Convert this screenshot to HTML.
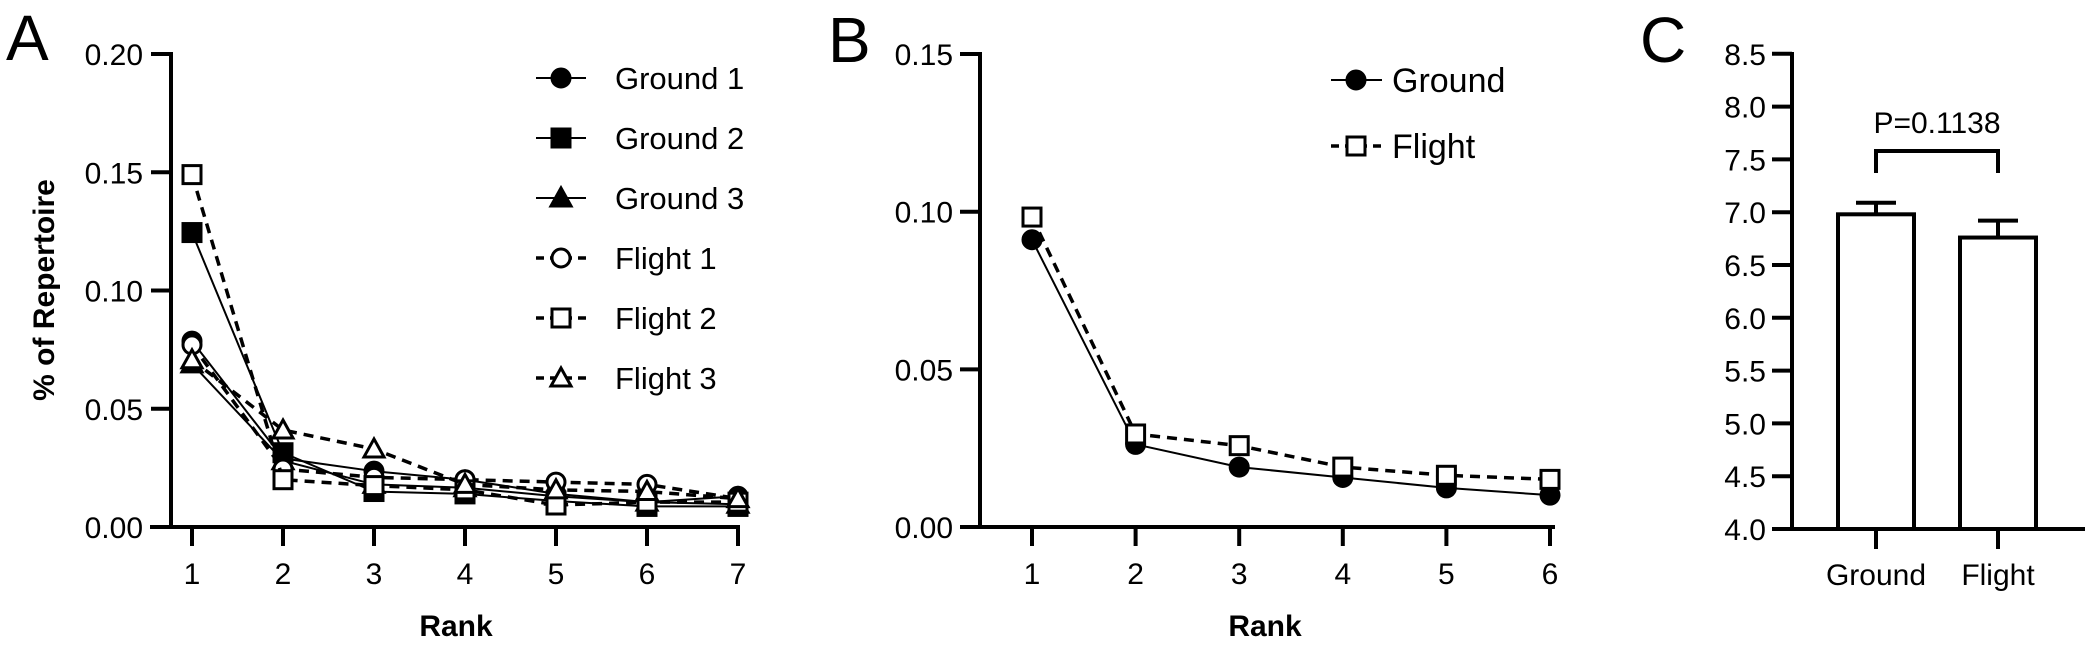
<!DOCTYPE html>
<html><head><meta charset="utf-8"><style>
html,body{margin:0;padding:0;background:#fff}
svg{display:block;font-family:"Liberation Sans",Arial,sans-serif}
</style></head><body>
<svg id="fig" width="2085" height="647" viewBox="0 0 2085 647" xmlns="http://www.w3.org/2000/svg"></svg>
<script>
// ---------- Panel A data ----------
const ranksA = [1,2,3,4,5,6,7];
const yTicksA = ["0.00","0.05","0.10","0.15","0.20"];
const ground1 = [0.0786,0.029,0.0236,0.020,0.014,0.0105,0.013];
const ground2 = [0.1245,0.0314,0.015,0.014,0.011,0.0087,0.0087];
const ground3 = [0.069,0.028,0.018,0.0166,0.013,0.0105,0.0096];
const flight1 = [0.077,0.0245,0.021,0.020,0.019,0.018,0.012];
const flight2 = [0.149,0.020,0.0175,0.0157,0.0093,0.0105,0.0105];
const flight3 = [0.0707,0.041,0.033,0.018,0.0157,0.015,0.012];
const seriesNamesA = ["Ground 1","Ground 2","Ground 3","Flight 1","Flight 2","Flight 3"];
// ---------- Panel B data ----------
const ranksB = [1,2,3,4,5,6];
const yTicksB = ["0.00","0.05","0.10","0.15"];
const groundB = [0.0911,0.0262,0.019,0.0157,0.0124,0.0101];
const flightB = [0.0983,0.0295,0.0258,0.019,0.0164,0.0151];
// ---------- Panel C data ----------
const groupsC = ["Ground","Flight"];
const meansC = [6.98,6.76];
const errC = [0.11,0.16];
const yTicksC = ["4.0","4.5","5.0","5.5","6.0","6.5","7.0","7.5","8.0","8.5"];
const pLabel = "P=0.1138";

const NS="http://www.w3.org/2000/svg";
const svg=document.getElementById('fig');
function el(tag,attrs,parent){const e=document.createElementNS(NS,tag);for(const k in attrs)e.setAttribute(k,attrs[k]);(parent||svg).appendChild(e);return e;}
function txt(s,attrs,parent){const t=el('text',attrs,parent);t.textContent=s;return t;}

function marker(g,shape,filled,x,y){
  const f=filled?'#000':'#fff';
  let m;
  if(shape==='circle') m=el('circle',{cx:x,cy:y,r:9,fill:f,stroke:'#000','stroke-width':3},g);
  else if(shape==='square') m=el('rect',{x:x-9,y:y-9,width:18,height:18,fill:f,stroke:'#000','stroke-width':3},g);
  else m=el('polygon',{points:`${x},${y-10} ${x+10},${y+8} ${x-10},${y+8}`,fill:f,stroke:'#000','stroke-width':3},g);
  return m;
}

// ================= Panel A =================
const gA=el('g',{});


const xA=r=>192+91*(r-1);
const yA=v=>527-v*2365;
let t=txt('A',{x:6,y:60,'font-size':64},gA);

el('line',{x1:171,y1:52,x2:171,y2:529,stroke:'#000','stroke-width':4},gA);
el('line',{x1:150,y1:527,x2:740,y2:527,stroke:'#000','stroke-width':4},gA);
yTicksA.forEach(s=>{const v=parseFloat(s);const y=yA(v);
  el('line',{x1:151,y1:y,x2:171,y2:y,stroke:'#000','stroke-width':4},gA);
  const l=txt(s,{x:143,y:y+11,'font-size':30,'text-anchor':'end'},gA);
  });
ranksA.forEach(r=>{const x=xA(r);
  el('line',{x1:x,y1:527,x2:x,y2:546,stroke:'#000','stroke-width':4},gA);
  const l=txt(String(r),{x:x,y:584,'font-size':30,'text-anchor':'middle'},gA);
  });
t=txt('% of Repertoire',{x:0,y:0,'font-size':30,'font-weight':'bold','text-anchor':'middle',transform:'translate(54,290) rotate(-90)'},gA);

t=txt('Rank',{x:456,y:636,'font-size':30,'font-weight':'bold','text-anchor':'middle'},gA);

const seriesA=[ground1,ground2,ground3,flight1,flight2,flight3];
const shapes=['circle','square','triangle','circle','square','triangle'];
seriesA.forEach((vals,i)=>{
  const dashed=i>=3;
  const pts=vals.map((v,k)=>xA(ranksA[k])+','+yA(v)).join(' ');
  const pl=el('polyline',{points:pts,fill:'none',stroke:'#000','stroke-width':dashed?3.5:2,'stroke-dasharray':dashed?'10,7':'none'},gA);
  
  
  vals.forEach((v,k)=>{const m=marker(gA,shapes[i],!dashed,xA(ranksA[k]),yA(v));
    
    });
  const ly=78+60*i;
  const lg=el('g',{},gA);
  
  
  el('line',{x1:536,y1:ly,x2:586,y2:ly,stroke:'#000','stroke-width':dashed?3.5:2,'stroke-dasharray':dashed?'8,6':'none'},lg);
  marker(lg,shapes[i],!dashed,561,ly);
  txt(seriesNamesA[i],{x:615,y:ly+11,'font-size':31},lg);
});

// ================= Panel B =================
const gB=el('g',{});


const xB=r=>1032+103.6*(r-1);
const yB=v=>527-v*3153;
t=txt('B',{x:828,y:62,'font-size':64},gB);

el('line',{x1:980,y1:52,x2:980,y2:529,stroke:'#000','stroke-width':4},gB);
el('line',{x1:960,y1:527,x2:1555,y2:527,stroke:'#000','stroke-width':4},gB);
yTicksB.forEach(s=>{const v=parseFloat(s);const y=yB(v);
  el('line',{x1:960,y1:y,x2:980,y2:y,stroke:'#000','stroke-width':4},gB);
  const l=txt(s,{x:953,y:y+11,'font-size':30,'text-anchor':'end'},gB);
  });
ranksB.forEach(r=>{const x=xB(r);
  el('line',{x1:x,y1:527,x2:x,y2:546,stroke:'#000','stroke-width':4},gB);
  const l=txt(String(r),{x:x,y:584,'font-size':30,'text-anchor':'middle'},gB);
  });
t=txt('Rank',{x:1265,y:636,'font-size':30,'font-weight':'bold','text-anchor':'middle'},gB);

[[groundB,'circle',false,'Ground'],[flightB,'square',true,'Flight']].forEach(([vals,sh,dashed,name],i)=>{
  const pts=vals.map((v,k)=>xB(ranksB[k])+','+yB(v)).join(' ');
  const pl=el('polyline',{points:pts,fill:'none',stroke:'#000','stroke-width':dashed?3.5:2,'stroke-dasharray':dashed?'10,7':'none'},gB);
  
  
  vals.forEach((v,k)=>{const m=marker(gB,sh,!dashed,xB(ranksB[k]),yB(v));
    
    });
  const ly=80+66*i;
  const lg=el('g',{},gB);
  
  
  el('line',{x1:1331,y1:ly,x2:1382,y2:ly,stroke:'#000','stroke-width':dashed?3.5:2,'stroke-dasharray':dashed?'8,6':'none'},lg);
  marker(lg,sh,!dashed,1356,ly);
  txt(name,{x:1392,y:ly+12,'font-size':34},lg);
});

// ================= Panel C =================
const gC=el('g',{});


const yC=v=>529-(v-4)*105.6;
const xC=[1876,1998];
t=txt('C',{x:1640,y:62,'font-size':64},gC);

el('line',{x1:1792,y1:52,x2:1792,y2:531,stroke:'#000','stroke-width':4},gC);
el('line',{x1:1772,y1:529,x2:2085,y2:529,stroke:'#000','stroke-width':4},gC);
yTicksC.forEach(s=>{const v=parseFloat(s);const y=yC(v);
  el('line',{x1:1772,y1:y,x2:1792,y2:y,stroke:'#000','stroke-width':4},gC);
  const l=txt(s,{x:1766,y:y+11,'font-size':30,'text-anchor':'end'},gC);
  });
groupsC.forEach((g,i)=>{
  const x=xC[i];
  const top=yC(meansC[i]);
  const eb=el('line',{x1:x,y1:top,x2:x,y2:yC(meansC[i]+errC[i]),stroke:'#000','stroke-width':4},gC);
  
  el('line',{x1:x-20,y1:yC(meansC[i]+errC[i]),x2:x+20,y2:yC(meansC[i]+errC[i]),stroke:'#000','stroke-width':4},gC);
  const b=el('rect',{x:x-38,y:top,width:76,height:529-top,fill:'#fff',stroke:'#000','stroke-width':4},gC);
  
  el('line',{x1:x,y1:529,x2:x,y2:549,stroke:'#000','stroke-width':4},gC);
  const l=txt(g,{x:x,y:585,'font-size':30,'text-anchor':'middle'},gC);
  
});
const br=el('polyline',{points:`${xC[0]},173 ${xC[0]},151 ${xC[1]},151 ${xC[1]},173`,fill:'none',stroke:'#000','stroke-width':4},gC);

t=txt(pLabel,{x:1937,y:133,'font-size':30,'text-anchor':'middle'},gC);

</script>
</body></html>
